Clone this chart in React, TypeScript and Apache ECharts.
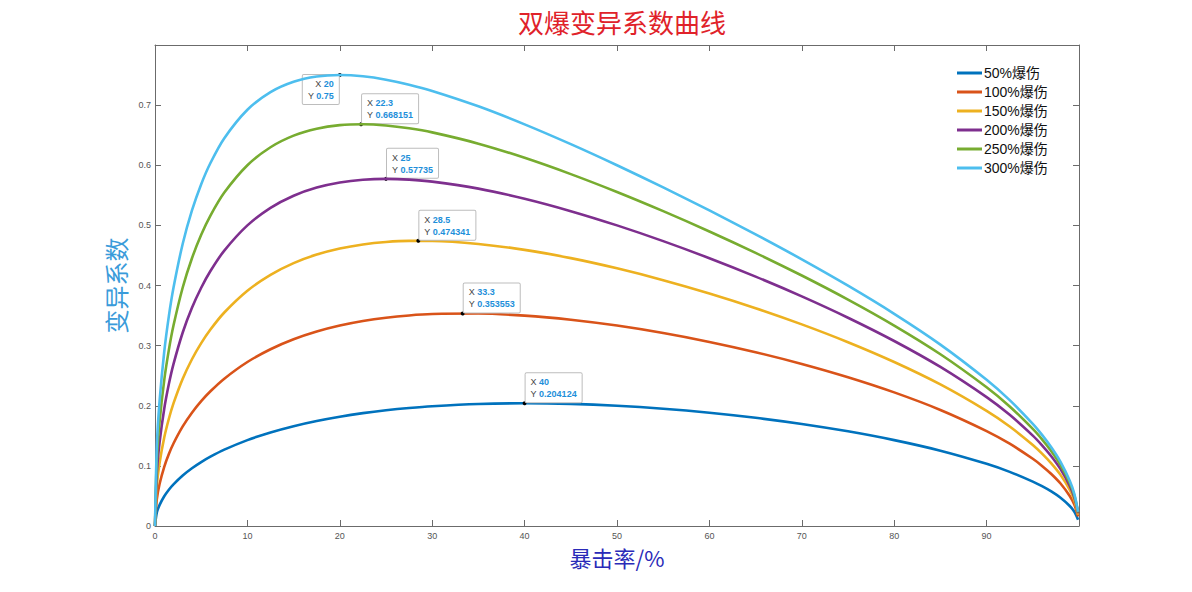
import React, { useEffect, useRef } from 'react';
import * as echarts from 'echarts';

// crit rate (%)
const critRate = [0, 0.2, 0.5, 1, 1.5, 2, 3, 4, 5, 6, 7.5, 10, 12.5, 15, 17.5, 20, 22.5, 25, 27.5, 30, 35, 40, 45, 50, 55, 60, 65, 70, 75, 80, 85, 90, 92.5, 95, 96, 97, 98, 99, 99.5, 99.9];

const cv50 = [0, 0.02232, 0.03518, 0.0495, 0.06032, 0.06931, 0.08403, 0.09606, 0.10632, 0.11529, 0.12694, 0.14286, 0.15563, 0.16608, 0.1747, 0.18182, 0.18768, 0.19245, 0.19627, 0.19924, 0.20297, 0.20412, 0.20306, 0.2, 0.1951, 0.18842, 0.17999, 0.16973, 0.15746, 0.14286, 0.12529, 0.10345, 0.09005, 0.07388, 0.0662, 0.05744, 0.04698, 0.03328, 0.02355, 0.01054];
const cv100 = [0, 0.04459, 0.07018, 0.09851, 0.11976, 0.13725, 0.16562, 0.18842, 0.20757, 0.22404, 0.24502, 0.27273, 0.29397, 0.3105, 0.32338, 0.33333, 0.34088, 0.34641, 0.35021, 0.35251, 0.35331, 0.34993, 0.3431, 0.33333, 0.32096, 0.30619, 0.28907, 0.26956, 0.24744, 0.22222, 0.19301, 0.15789, 0.13683, 0.11177, 0.09998, 0.08659, 0.07071, 0.05, 0.03536, 0.01581];
const cv150 = [0, 0.06682, 0.10501, 0.14704, 0.17832, 0.20388, 0.24486, 0.2773, 0.30411, 0.32682, 0.35513, 0.3913, 0.41775, 0.43723, 0.45144, 0.46154, 0.46832, 0.47238, 0.47417, 0.47406, 0.46915, 0.45928, 0.44552, 0.42857, 0.4089, 0.38676, 0.36226, 0.33531, 0.30566, 0.27273, 0.23543, 0.19149, 0.16548, 0.13481, 0.12047, 0.10423, 0.08502, 0.06006, 0.04245, 0.01898];
const cv200 = [0, 0.089, 0.13967, 0.1951, 0.23603, 0.26923, 0.32186, 0.36289, 0.39626, 0.42408, 0.45807, 0.5, 0.52915, 0.54934, 0.56292, 0.57143, 0.57598, 0.57735, 0.57615, 0.57282, 0.56114, 0.54433, 0.52368, 0.5, 0.4738, 0.44536, 0.41476, 0.38188, 0.34641, 0.30769, 0.2645, 0.21429, 0.18484, 0.15031, 0.13422, 0.11605, 0.09459, 0.06678, 0.04718, 0.02109];
const cv250 = [0, 0.11114, 0.17416, 0.24268, 0.2929, 0.33333, 0.39671, 0.44536, 0.48432, 0.51628, 0.55451, 0.6, 0.62994, 0.64922, 0.66081, 0.66667, 0.66813, 0.66617, 0.6615, 0.65465, 0.63596, 0.61237, 0.58529, 0.55556, 0.52368, 0.4899, 0.45426, 0.4166, 0.37653, 0.33333, 0.28566, 0.23077, 0.19879, 0.16144, 0.14409, 0.12452, 0.10145, 0.07158, 0.05056, 0.02259];
const cv300 = [0, 0.13323, 0.20847, 0.2898, 0.34896, 0.39623, 0.46951, 0.52489, 0.56855, 0.60378, 0.64504, 0.69231, 0.72157, 0.73877, 0.74748, 0.75, 0.74791, 0.74231, 0.734, 0.72357, 0.698, 0.66804, 0.6351, 0.6, 0.5632, 0.52489, 0.48505, 0.44348, 0.3997, 0.35294, 0.30175, 0.24324, 0.20932, 0.16983, 0.15151, 0.13088, 0.1066, 0.07519, 0.0531, 0.02372];

const seriesNames = ['50%爆伤', '100%爆伤', '150%爆伤', '200%爆伤', '250%爆伤', '300%爆伤'];
const seriesValues = [cv50, cv100, cv150, cv200, cv250, cv300];
const colors = ['#0072BD', '#D95319', '#EDB120', '#7E2F8E', '#77AC30', '#4DBEEE'];

// data tips (peak of each curve)
const tipX = [40, 33.3, 28.5, 25, 22.3, 20];
const tipY = [0.204124, 0.353553, 0.474341, 0.57735, 0.668151, 0.75];

const xTicksMax = 100;

export default function App() {
  const ref = useRef<HTMLDivElement>(null);

  useEffect(() => {
    if (!ref.current) return;
    const chart = echarts.init(ref.current, null, { renderer: 'svg' });
    const axisColor = '#6b6b6b';
    const tickLabel = { fontSize: 9, color: '#555', fontFamily: 'Liberation Sans, Arial, sans-serif' };
    const line = { show: true, onZero: false, lineStyle: { color: axisColor, width: 1 } };
    const tick = { show: true, inside: true, length: 6, lineStyle: { color: axisColor } };

    const series = seriesValues.map((vals, i) => {
      const left = i === 5;
      return {
        name: seriesNames[i],
        type: 'line',
        xAxisIndex: 0,
        yAxisIndex: 0,
        data: critRate.map((x, j) => [x, vals[j]]),
        smooth: 0.3,
        showSymbol: false,
        symbol: 'none',
        lineStyle: { width: 2.6, color: colors[i] },
        itemStyle: { color: colors[i] },
        z: 2 + i,
        markPoint: {
          silent: true,
          symbol: 'circle',
          symbolSize: 4,
          itemStyle: { color: '#000' },
          data: [
            {
              coord: [tipX[i], tipY[i]],
              label: {
                show: true,
                position: left ? [1, 2] : [3, -28],
                align: left ? 'right' : 'left',
                verticalAlign: 'top',
                formatter: `{k|X }{v|${tipX[i]}}\n{k|Y }{v|${tipY[i]}}`,
                backgroundColor: '#fff',
                borderColor: '#bdbdbd',
                borderWidth: 1,
                borderRadius: 1,
                padding: [3, 5, 2, 5],
                lineHeight: 12,
                rich: {
                  k: { fontSize: 9, color: '#444', lineHeight: 12, fontFamily: 'Liberation Sans, Arial, sans-serif' },
                  v: { fontSize: 9, color: '#1E8FDA', fontWeight: 'bold', lineHeight: 12, fontFamily: 'Liberation Sans, Arial, sans-serif' },
                },
              },
            },
          ],
        },
      };
    });

    const option = {
      animation: false,
      backgroundColor: '#fff',
      color: colors,
      title: {
        text: '双爆变异系数曲线',
        left: 617,
        top: 3,
        textAlign: 'center',
        textStyle: { color: '#E0222A', fontSize: 26, fontWeight: 'normal', fontFamily: 'Noto Sans CJK SC' },
      },
      legend: {
        orient: 'vertical',
        left: 952,
        top: 60,
        icon: 'rect',
        itemWidth: 25,
        itemHeight: 3,
        itemGap: 3,
        data: seriesNames,
        textStyle: { fontSize: 14, lineHeight: 16, color: '#111', fontFamily: 'Liberation Sans, Noto Sans CJK SC, sans-serif', padding: [0, 0, 0, -3] },
      },
      grid: { left: 155, right: 113, top: 45, bottom: 66, containLabel: false },
      xAxis: [
        {
          type: 'value',
          min: 0,
          max: xTicksMax,
          interval: 10,
          position: 'bottom',
          name: '暴击率/%',
          nameLocation: 'middle',
          nameGap: 20,
          nameTextStyle: { color: '#2A2AB8', fontSize: 22, fontFamily: 'Noto Sans CJK SC' },
          axisLine: line,
          axisTick: tick,
          axisLabel: { ...tickLabel, margin: 5, formatter: (v: number) => (v === xTicksMax ? '' : String(v)) },
          splitLine: { show: false },
        },
        {
          type: 'value',
          min: 0,
          max: xTicksMax,
          interval: 10,
          position: 'top',
          axisLine: line,
          axisTick: tick,
          axisLabel: { show: false },
          splitLine: { show: false },
        },
      ],
      yAxis: [
        {
          type: 'value',
          min: 0,
          max: 0.8,
          interval: 0.1,
          position: 'left',
          name: '变异系数',
          nameLocation: 'middle',
          nameGap: 17,
          nameTextStyle: { color: '#3A9BDA', fontSize: 24, fontFamily: 'Noto Sans CJK SC' },
          axisLine: line,
          axisTick: tick,
          axisLabel: { ...tickLabel, margin: 4, formatter: (v: number) => (Math.abs(v - 0.8) < 1e-9 ? '' : String(Math.round(v * 10) / 10)) },
          splitLine: { show: false },
        },
        {
          type: 'value',
          min: 0,
          max: 0.8,
          interval: 0.1,
          position: 'right',
          axisLine: line,
          axisTick: tick,
          axisLabel: { show: false },
          splitLine: { show: false },
        },
      ],
      series,
    };

    chart.setOption(option as any);
    return () => chart.dispose();
  }, []);

  return (
    <div
      ref={ref}
      style={{ position: 'fixed', left: 0, top: 0, width: 1192, height: 592, background: '#fff' }}
    />
  );
}
